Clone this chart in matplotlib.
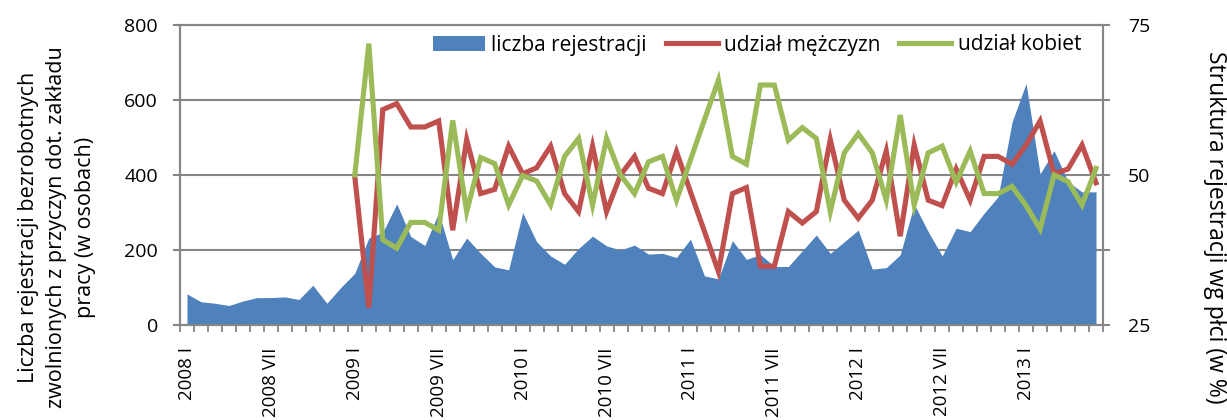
import matplotlib
matplotlib.use("Agg")
import matplotlib.pyplot as plt
from matplotlib.patches import Patch
from matplotlib.lines import Line2D

plt.rcParams['font.family'] = ['Open Sans', 'DejaVu Sans']

# monthly categories 2008 I .. 2013 VI
roman = ["I", "II", "III", "IV", "V", "VI", "VII", "VIII", "IX", "X", "XI", "XII"]
years = [2008, 2009, 2010, 2011, 2012, 2013]
months = [f"{y} {r}" for y in years for r in roman][:66]

tick_labels = ["2008 I", "2008 VII", "2009 I", "2009 VII", "2010 I", "2010 VII",
               "2011 I", "2011 VII", "2012 I", "2012 VII", "2013 I"]

# liczba rejestracji (osoby), 2008 I - 2013 VI
registrations = [83, 62, 58, 52, 64, 73, 73, 75, 68, 106,
                 58, 100, 138, 232, 247, 323, 236, 212, 300, 174,
                 232, 191, 155, 147, 300, 222, 184, 162, 204, 237,
                 211, 200, 213, 189, 191, 180, 229, 131, 123, 225,
                 175, 188, 156, 156, 198, 240, 191, 222, 253, 149,
                 153, 187, 322, 249, 184, 258, 249, 298, 342, 542,
                 644, 403, 465, 382, 355, 355]

# udzial (%) from 2009 I
share_start = "2009 I"
men_share = [49.7, 27.9, 60.9, 61.9, 58.0, 58.0, 59.0, 40.8, 55.9, 46.9,
             47.6, 54.8, 50.2, 51.2, 54.8, 46.9, 43.9, 54.8, 43.9, 50.0,
             53.1, 47.8, 46.9, 53.9, 47.2, 40.6, 33.9, 46.9, 47.9, 34.8,
             34.8, 43.9, 42.0, 43.9, 55.9, 45.8, 42.8, 45.8, 54.0, 39.8,
             55.0, 45.8, 44.9, 51.0, 45.8, 53.1, 53.1, 51.8, 55.0, 59.0,
             50.2, 51.0, 55.0, 48.7]
women_share = [50.0, 71.9, 39.2, 37.8, 42.1, 42.1, 40.8, 59.1, 43.9, 52.9,
               51.9, 45.0, 49.9, 49.0, 45.0, 53.1, 56.1, 45.0, 56.1, 50.0,
               46.9, 52.2, 53.1, 45.8, 52.5, 59.2, 65.8, 53.1, 51.8, 65.0,
               65.0, 55.8, 57.9, 56.1, 43.9, 53.7, 56.9, 53.7, 45.8, 60.0,
               45.0, 53.7, 54.8, 48.8, 54.0, 46.9, 46.9, 48.1, 44.9, 41.0,
               50.0, 48.9, 45.0, 51.1]

BLUE = "#4F81BD"
RED = "#C0504D"
GREEN = "#9BBB59"
GRAY = "#868686"

x_all = list(range(len(months)))
s0 = months.index(share_start)
x_share = x_all[s0:s0 + len(men_share)]

fig = plt.figure(figsize=(12.27, 4.2), dpi=100)
ax = fig.add_axes([180 / 1227, 1 - 325 / 420, 923 / 1227, 300 / 420])

ax.fill_between(x_all, registrations, 0, color=BLUE, lw=0, zorder=2)
ax.set_xlim(-0.5, len(months) - 0.5)
ax.set_ylim(0, 800)
ax.set_yticks([0, 200, 400, 600, 800])
ax.yaxis.grid(True, color=GRAY, lw=1.5)
ax.set_axisbelow(True)

ax.set_xticks([months.index(t) for t in tick_labels])
ax.set_xticklabels(tick_labels, rotation=90, fontsize=13.5, va="top", ha="center")
ax.set_xticks([i - 0.5 for i in range(len(months) + 1)], minor=True)
ax.tick_params(axis="x", which="major", length=0, pad=16)
ax.tick_params(axis="x", which="minor", length=5, width=1.3, color=GRAY, direction="out")
ax.tick_params(axis="y", length=5, width=1.5, color=GRAY, labelsize=14, pad=11)

for side in ["left", "bottom", "top", "right"]:
    ax.spines[side].set_color(GRAY)
    ax.spines[side].set_linewidth(1.5)

ax2 = ax.twinx()
ax2.plot(x_share, men_share, color=RED, lw=3.7, solid_joinstyle="miter", zorder=3)
ax2.plot(x_share, women_share, color=GREEN, lw=3.7, solid_joinstyle="miter", zorder=4)
ax2.set_ylim(25, 75)
ax2.set_yticks([25, 50, 75])
ax2.set_yticks([37.5, 62.5], minor=True)
ax2.tick_params(axis="y", which="both", length=5, width=1.5, color=GRAY, labelsize=14, pad=13)
for side in ["left", "bottom", "top", "right"]:
    ax2.spines[side].set_color(GRAY)
    ax2.spines[side].set_linewidth(1.5)

fig.text(57 / 1227, 1 - 227 / 420,
         "Liczba rejestracji bezrobotnych\nzwolnionych z przyczyn dot. zakładu\npracy (w osobach)",
         rotation=90, ha="center", va="center", multialignment="center",
         fontsize=15.5, linespacing=1.45)
fig.text(1215 / 1227, 1 - 227 / 420, "Struktura rejestracji wg płci (w %)",
         rotation=270, ha="center", va="center", fontsize=16.5)

handles = [Patch(facecolor=BLUE, edgecolor="none"),
           Line2D([], [], color=RED, lw=3.7),
           Line2D([], [], color=GREEN, lw=3.7)]
labels = ["liczba rejestracji", "udział mężczyzn", "udział kobiet"]
fig.legend(handles, labels, loc="center left", bbox_to_anchor=(433 / 1227, 1 - 45 / 420),
           ncol=3, frameon=False, fontsize=15, handlelength=2.5, handletextpad=0.3,
           columnspacing=0.9, borderaxespad=0, borderpad=0)

fig.savefig("out.png", dpi=100)
